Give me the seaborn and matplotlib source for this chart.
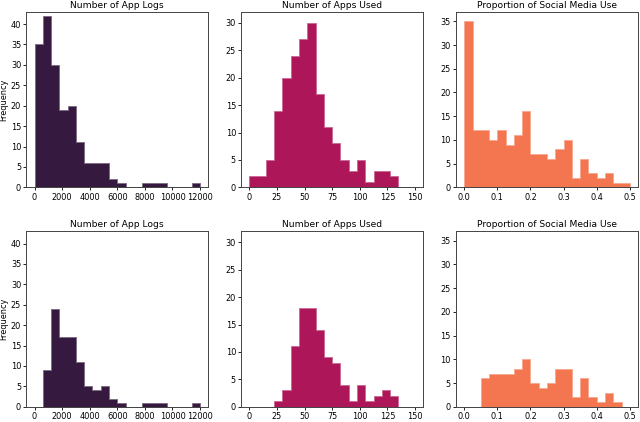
import numpy as np
import pandas as pd
import matplotlib
matplotlib.use("Agg")
import matplotlib.pyplot as plt
import seaborn as sns

# ---- data (bin counts) ----
titles = ["Number of App Logs", "Number of Apps Used", "Proportion of Social Media Use"]

logs_edges = [0, 600, 1200, 1800, 2400, 3000, 3600, 4200, 4800, 5400, 6000,
              6600, 7200, 7800, 8400, 9000, 9600, 10200, 10800, 11400, 12000]
logs_top = [35, 42, 30, 19, 20, 11, 6, 6, 6, 2, 1, 0, 0, 1, 1, 1, 0, 0, 0, 1]
logs_bottom = [0, 9, 24, 17, 17, 11, 5, 4, 5, 2, 1, 0, 0, 1, 1, 1, 0, 0, 0, 1]

apps_edges = [0, 7.5, 15, 22.5, 30, 37.5, 45, 52.5, 60, 67.5, 75, 82.5, 90,
              97.5, 105, 112.5, 120, 127.5, 135, 142.5, 150]
apps_top = [2, 2, 5, 14, 20, 24, 27, 30, 17, 11, 8, 5, 3, 5, 1, 3, 3, 2, 0, 0]
apps_bottom = [0, 0, 0, 1, 3, 11, 18, 18, 14, 9, 8, 4, 1, 4, 1, 2, 3, 2, 0, 0]

social_edges = [0, 0.025, 0.05, 0.075, 0.1, 0.125, 0.15, 0.175, 0.2, 0.225, 0.25,
                0.275, 0.3, 0.325, 0.35, 0.375, 0.4, 0.425, 0.45, 0.475, 0.5]
social_top = [35, 12, 12, 10, 12, 9, 11, 16, 7, 7, 6, 8, 10, 2, 6, 3, 2, 3, 1, 1]
social_bottom = [0, 0, 6, 7, 7, 7, 8, 10, 5, 4, 5, 8, 8, 2, 6, 2, 1, 3, 1, 0]

col_edges = [logs_edges, apps_edges, social_edges]
rows = [[logs_top, apps_top, social_top], [logs_bottom, apps_bottom, social_bottom]]
ylims = [43, 32, 37]
xlims = [(-600, 12600), (-7.5, 157.5), (-0.025, 0.525)]
xticks = [[0, 2000, 4000, 6000, 8000, 10000, 12000],
          [0, 25, 50, 75, 100, 125, 150],
          [0.0, 0.1, 0.2, 0.3, 0.4, 0.5]]

pal = sns.color_palette("rocket", 6)
colors = [pal[0], pal[2], pal[4]]

plt.rcParams["font.family"] = ["DejaVu Sans"]
fig, axes = plt.subplots(2, 3, figsize=(6.4, 4.22), dpi=100)
fig.subplots_adjust(left=0.041, right=0.997, top=0.972, bottom=0.036,
                    wspace=0.18, hspace=0.25)

for r in range(2):
    for c in range(3):
        ax = axes[r, c]
        edges = [float(e) for e in col_edges[c]]
        counts = [float(v) for v in rows[r][c]]
        centers = [(a + b) / 2 for a, b in zip(edges[:-1], edges[1:])]
        df = pd.DataFrame({"x": centers, "w": counts})
        base = np.array(colors[c])
        light = tuple(base + (1 - base) * 0.35)
        sns.histplot(data=df, x="x", weights="w", bins=edges, element="step",
                     fill=True, color=colors[c], alpha=1, linewidth=0.6,
                     edgecolor=light, ax=ax)
        ax.set_xlim(*xlims[c])
        ax.set_ylim(0, ylims[c])
        ax.set_xticks(xticks[c])
        ax.set_yticks(np.arange(0, ylims[c], 5))
        ax.set_title(titles[c], fontsize=6.6, pad=3)
        ax.set_xlabel("")
        ax.set_ylabel("Frequency" if c == 0 else "", fontsize=5.9, labelpad=2)
        ax.tick_params(labelsize=5.9, length=2.5, width=0.6, pad=1.2)
        for s in ax.spines.values():
            s.set_linewidth(0.7)
            s.set_color("#444444")

fig.savefig("out.png", dpi=100)
